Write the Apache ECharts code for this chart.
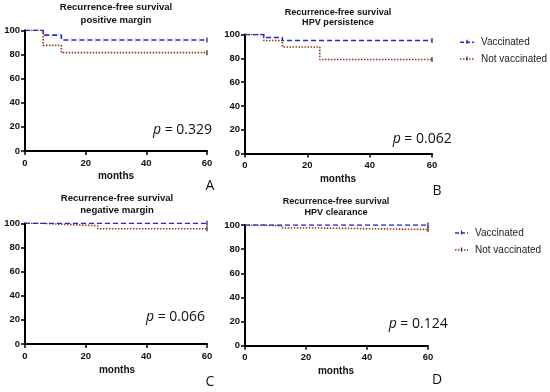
<!DOCTYPE html>
<html>
<head>
<meta charset="utf-8">
<script src="https://cdn.jsdelivr.net/npm/echarts@6/dist/echarts.min.js"></script>
<style>html,body{margin:0;padding:0;background:#fff}#c{width:550px;height:392px}</style>
</head>
<body>
<div id="c"></div>
<script>
// Kaplan-Meier step data: [month, survival %]
var A_vacc = [[0,100],[6,96],[12,92],[60,92]];
var A_notv = [[0,100],[6,87.5],[12,81.5],[60,81.5]];
var B_vacc = [[0,100],[6,97.5],[12,95],[60,95]];
var B_notv = [[0,100],[6,95],[12,89.5],[24,79],[60,79]];
var C_vacc = [[0,100],[60,100]];
var C_notv = [[0,100],[6,99.2],[12,98],[24,95.5],[60,95.5]];
var D_vacc = [[0,100],[60,100]];
var D_notv = [[0,100],[6,99.3],[12,97.5],[24,96.3],[60,96.3]];
var xTicks = [0,20,40,60];
var yTicks = [0,20,40,60,80,100];
var panelTitles = [
  'Recurrence-free survival\npositive margin',
  'Recurrence-free survival\nHPV persistence',
  'Recurrence-free survival\nnegative margin',
  'Recurrence-free survival\nHPV clearance'
];
var pValues = ['0.329','0.062','0.066','0.124'];
var panelLetters = ['A','B','C','D'];
var legendNames = ['Vaccinated','Not vaccinated'];
var xName = 'months';

var BLUE = '#2828d4', RED = '#8e3b22';
var grids = [
  {left:25, top:30.3, width:182, height:120.7},
  {left:245, top:34.5, width:187, height:119},
  {left:25, top:223.3, width:182, height:120.7},
  {left:245, top:225, width:183, height:120.7}
];
var data = [[A_vacc,A_notv],[B_vacc,B_notv],[C_vacc,C_notv],[D_vacc,D_notv]];
var xAxes=[], yAxes=[], series=[];
var axisLine = {lineStyle:{color:'#000', width:2}};
var axisTick = {length:4, lineStyle:{color:'#000', width:1.5}};
for (var i=0;i<4;i++){
  xAxes.push({gridIndex:i, type:'value', min:xTicks[0], max:xTicks[xTicks.length-1], interval:20,
    axisLine:axisLine, axisTick:axisTick, splitLine:{show:false},
    axisLabel:{color:'#111', fontFamily:'Liberation Sans', fontWeight:'bold', fontSize:9.5, margin:7}});
  yAxes.push({gridIndex:i, type:'value', min:yTicks[0], max:yTicks[yTicks.length-1], interval:20,
    axisLine:{show:true, lineStyle:{color:'#000', width:2}}, axisTick:{show:true, length:4, lineStyle:{color:'#000', width:1.5}}, splitLine:{show:false},
    axisLabel:{color:'#111', fontFamily:'Liberation Sans', fontWeight:'bold', fontSize:9.5, margin:5}});
  var cols=[BLUE,RED];
  var dashes=[[5,3],[1.5,1.5]];
  for (var s=0;s<2;s++){
    var d = data[i][s];
    series.push({type:'line', name:legendNames[s], xAxisIndex:i, yAxisIndex:i, data:d, step:'end',
      symbol:'none', animation:false, z: s===0?3:2,
      lineStyle:{color:cols[s], width:1.6, type:dashes[s]}});
    series.push({type:'scatter', xAxisIndex:i, yAxisIndex:i, data:[d[d.length-1]], symbol:'rect',
      symbolSize:[1.6,5], itemStyle:{color: s===0 ? '#222288' : '#552211'}, animation:false, silent:true});
  }
}
var titlePos = [[116,7.3,9.6],[338,12.3,9.1],[117,198,9.6],[336,201.7,9.1]];
var titleLH = [12.7,10.6,12.7,11];
var pPos = [[212,130,'right'],[451.7,139.3,'right'],[205,316.7,'right'],[447.7,324,'right']];
var letterPos = [[210,186],[437,190.7],[210,381.7],[437,380]];
var monthPos = [[116,176.7],[338,179],[117,370],[336,371.7]];
var graphics = [];
for (var i=0;i<4;i++){
  graphics.push({type:'text', x:titlePos[i][0], y:titlePos[i][1]-titleLH[i]/2, style:{text:panelTitles[i], fill:'#111',
    font:'bold '+titlePos[i][2]+'px "Liberation Sans"', textAlign:'center', textVerticalAlign:'top', lineHeight:titleLH[i]}});
  graphics.push({type:'text', x:pPos[i][0], y:pPos[i][1], style:{
    rich:{p:{fontFamily:'Open Sans', fontStyle:'italic', fontSize:14, fill:'#111'}, v:{fontFamily:'Open Sans', fontSize:14, fill:'#111'}},
    text:'{p|p}{v| = '+pValues[i]+'}', textAlign:pPos[i][2], textVerticalAlign:'middle'}});
  graphics.push({type:'text', x:letterPos[i][0], y:letterPos[i][1], style:{text:panelLetters[i], font:'14px "Open Sans"', fill:'#111', textAlign:'center', textVerticalAlign:'middle'}});
  graphics.push({type:'text', x:monthPos[i][0], y:monthPos[i][1], style:{text:xName, font:'bold 10px "Liberation Sans"', fill:'#111', textAlign:'center', textVerticalAlign:'middle'}});
}
var legPos = [[460,474,42.3,59,481],[455,468,233,250,475]];
legPos.forEach(function(L){
  var ys=[L[2],L[3]];
  for (var s=0;s<2;s++){
    graphics.push({type:'line', shape:{x1:L[0],y1:ys[s],x2:L[1],y2:ys[s]}, style:{stroke:s===0?BLUE:RED, lineWidth:1.6, lineDash:s===0?[4,2]:[1.5,1.5]}});
    var mx=(L[0]+L[1])/2;
    graphics.push({type:'line', shape:{x1:mx,y1:ys[s]-2.5,x2:mx,y2:ys[s]+1.5}, style:{stroke:s===0?'#222288':'#552211', lineWidth:1.2}});
    graphics.push({type:'text', x:L[4], y:ys[s], style:{text:legendNames[s], font:'10px "Liberation Sans"', fill:'#222', textVerticalAlign:'middle'}});
  }
});
var chart = echarts.init(document.getElementById('c'), null, {renderer:'canvas'});
chart.setOption({animation:false, grid:grids, xAxis:xAxes, yAxis:yAxes, series:series, graphic:graphics});
</script>
</body>
</html>
